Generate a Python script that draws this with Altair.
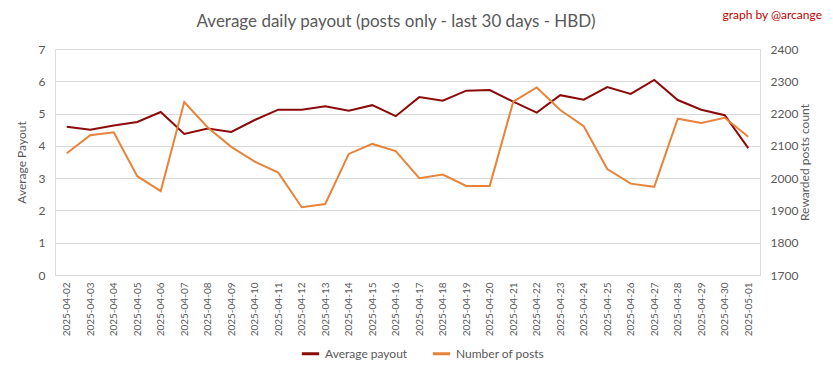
import altair as alt
import pandas as pd

dates = ["2025-04-02","2025-04-03","2025-04-04","2025-04-05","2025-04-06","2025-04-07",
         "2025-04-08","2025-04-09","2025-04-10","2025-04-11","2025-04-12","2025-04-13",
         "2025-04-14","2025-04-15","2025-04-16","2025-04-17","2025-04-18","2025-04-19",
         "2025-04-20","2025-04-21","2025-04-22","2025-04-23","2025-04-24","2025-04-25",
         "2025-04-26","2025-04-27","2025-04-28","2025-04-29","2025-04-30","2025-05-01"]
avg_payout = [4.59, 4.50, 4.63, 4.74, 5.05, 4.37, 4.54, 4.43, 4.80, 5.12,
              5.12, 5.23, 5.09, 5.26, 4.92, 5.51, 5.40, 5.71, 5.73, 5.37,
              5.03, 5.57, 5.43, 5.82, 5.61, 6.04, 5.42, 5.12, 4.95, 3.93]
num_posts = [2077, 2133, 2142, 2006, 1960, 2236, 2157, 2097, 2051, 2017,
             1910, 1920, 2075, 2106, 2084, 2000, 2011, 1976, 1976, 2237,
             2281, 2211, 2161, 2028, 1983, 1973, 2184, 2171, 2187, 2128]

left_ticks = [0, 1, 2, 3, 4, 5, 6, 7]
right_ticks = [1700, 1800, 1900, 2000, 2100, 2200, 2300, 2400]
series_names = ["Average payout", "Number of posts"]
series_colors = ["#8B0A0A", "#E8833A"]

df = pd.DataFrame({"date": dates, "avg": avg_payout, "posts": num_posts})
df["s1"] = series_names[0]
df["s2"] = series_names[1]

FONT = "Lato"
GREY = "#595959"

color_scale = alt.Scale(domain=series_names, range=series_colors)

x_enc = alt.X("date:N", sort=dates, title=None,
              scale=alt.Scale(paddingInner=0, paddingOuter=0.5),
              axis=alt.Axis(labelAngle=-90, labelFontSize=10, labelColor=GREY,
                            labelFont=FONT, ticks=False, domain=False,
                            labelPadding=7, grid=False))

base = alt.Chart(df)

line1 = base.mark_line(strokeWidth=2).encode(
    x=x_enc,
    y=alt.Y("avg:Q", title="Average Payout",
            scale=alt.Scale(domain=[0, 7], nice=False),
            axis=alt.Axis(values=left_ticks, grid=True, gridColor="#D9D9D9",
                          domain=False, ticks=False, labelColor=GREY,
                          labelFontSize=12, labelFont=FONT, labelPadding=10,
                          titleColor=GREY, titleFont=FONT, titleFontSize=12,
                          titleFontWeight="normal", titlePadding=10)),
    color=alt.Color("s1:N", scale=color_scale,
                    legend=alt.Legend(title=None, orient="none", direction="horizontal",
                                      legendX=245, legendY=294, symbolType="stroke",
                                      symbolStrokeWidth=3, symbolSize=300,
                                      labelFont=FONT, labelFontSize=12,
                                      labelColor=GREY, columnPadding=18)),
)

line2 = base.mark_line(strokeWidth=2).encode(
    x=x_enc,
    y=alt.Y("posts:Q", title="Rewarded posts count",
            scale=alt.Scale(domain=[1700, 2400], nice=False),
            axis=alt.Axis(values=right_ticks, grid=False, orient="right", format="d",
                          domain=False, ticks=False, labelColor=GREY,
                          labelFontSize=12, labelFont=FONT, labelPadding=10,
                          titleColor=GREY, titleFont=FONT, titleFontSize=12,
                          titleFontWeight="normal", titleAngle=270, titlePadding=14)),
    color=alt.Color("s2:N", scale=color_scale),
)

title_mark = alt.Chart(pd.DataFrame({"t": ["Average daily payout (posts only - last 30 days - HBD)"]})).mark_text(
    font=FONT, fontSize=17, color=GREY, align="center", baseline="middle"
).encode(x=alt.value(341), y=alt.value(-27), text="t:N")

credit_mark = alt.Chart(pd.DataFrame({"t": ["graph by @arcange"]})).mark_text(
    font=FONT, fontSize=12, color="#C00000", align="right", baseline="middle"
).encode(x=alt.value(767), y=alt.value(-34), text="t:N")

chart = alt.layer(line1, line2).resolve_scale(y="independent", color="shared")
chart = alt.layer(chart, title_mark, credit_mark).properties(
    width=705, height=226,
    padding={"left": 47, "top": 41, "right": 62, "bottom": 85},
    autosize=alt.AutoSizeParams(type="none"),
).configure_view(stroke=None).configure(background="white")

chart.save("out.html", embed_options={"renderer": "svg", "actions": False})
